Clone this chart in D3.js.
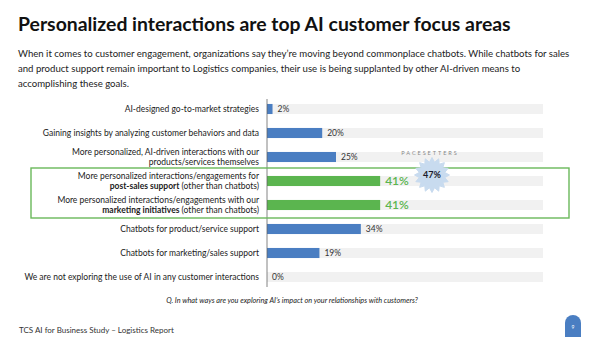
<!DOCTYPE html>
<html>
<head>
<meta charset="utf-8">
<script src="https://cdn.jsdelivr.net/npm/d3@7"></script>
<style>
  body { margin: 0; background: #fff; }
  svg { display: block; font-family: Lato, "Noto Sans", sans-serif; }
</style>
</head>
<body>
<div id="chart"></div>
<script>
// labels use **...** for bold parts, "|" for line breaks
const categories = [
  'AI-designed go-to-market strategies',
  'Gaining insights by analyzing customer behaviors and data',
  'More personalized, AI-driven interactions with our|products/services themselves',
  'More personalized interactions/engagements for|**post-sales support** (other than chatbots)',
  'More personalized interactions/engagements with our|**marketing initiatives** (other than chatbots)',
  'Chatbots for product/service support',
  'Chatbots for marketing/sales support',
  'We are not exploring the use of AI in any customer interactions',
];
const values = [2, 20, 25, 41, 41, 34, 19, 0];
const highlighted = [false, false, false, true, true, false, false, false];
const pacesetterValue = 47;

const titleText = 'Personalized interactions are top AI customer focus areas';
const subtitleLines = [
  'When it comes to customer engagement, organizations say they\u2019re moving beyond commonplace chatbots. While chatbots for sales',
  'and product support remain important to Logistics companies, their use is being supplanted by other AI-driven means to',
  'accomplishing these goals.',
];
const questionText = 'Q. In what ways are you exploring AI\u2019s impact on your relationships with customers?';
const footerText = 'TCS AI for Business Study \u2013 Logistics Report';
const pageNumber = '9';

const width = 600;
const height = 337;
const blue = '#4a7ec2';
const green = '#5bb54f';
const track = '#f1f1f1';

const svg = d3.select('#chart').append('svg')
  .attr('width', width)
  .attr('height', height);

svg.append('text')
  .attr('x', 18)
  .attr('y', 31)
  .attr('font-size', 19.4)
  .attr('font-weight', 'bold')
  .attr('fill', '#111')
  .text(titleText);

svg.append('g')
  .selectAll('text')
  .data(subtitleLines)
  .join('text')
  .attr('x', 18)
  .attr('y', (d, i) => 57 + i * 15)
  .attr('font-size', 9.6)
  .attr('fill', '#222')
  .text((d) => d);

const x = d3.scaleLinear()
  .domain([0, 100])
  .range([267, 543]);

const y = d3.scaleBand()
  .domain(d3.range(categories.length))
  .range([97, 289])
  .paddingInner(0.58)
  .paddingOuter(0.29);

const chart = svg.append('g');

// background tracks
chart.selectAll('rect.track')
  .data(values)
  .join('rect')
  .attr('class', 'track')
  .attr('x', x(0))
  .attr('width', x(100) - x(0))
  .attr('y', (d, i) => y(i))
  .attr('height', y.bandwidth())
  .attr('fill', track);

chart.selectAll('rect.bar')
  .data(values)
  .join('rect')
  .attr('class', 'bar')
  .attr('x', x(0))
  .attr('width', (d) => x(d) - x(0))
  .attr('y', (d, i) => y(i))
  .attr('height', y.bandwidth())
  .attr('fill', (d, i) => (highlighted[i] ? green : blue));

chart.append('line')
  .attr('x1', x(0))
  .attr('x2', x(0))
  .attr('y1', 99)
  .attr('y2', 287)
  .attr('stroke', '#666')
  .attr('stroke-width', 0.8);

chart.selectAll('text.value')
  .data(values)
  .join('text')
  .attr('class', 'value')
  .attr('x', (d) => x(d) + 5)
  .attr('y', (d, i) => y(i) + y.bandwidth() / 2)
  .attr('dy', '0.35em')
  .attr('font-size', (d, i) => (highlighted[i] ? 12 : 8.5))
  .attr('font-weight', (d, i) => (highlighted[i] ? 600 : 'normal'))
  .attr('fill', (d, i) => (highlighted[i] ? green : '#333'))
  .text((d) => `${d}%`);

// category labels, possibly two lines with bold parts
const labelG = chart.selectAll('text.label')
  .data(categories)
  .join('text')
  .attr('class', 'label')
  .attr('text-anchor', 'end')
  .attr('font-size', 8.5)
  .attr('fill', '#222');

labelG.each(function (d, i) {
  const lines = d.split('|');
  const lh = 10.5;
  const cy = y(i) + y.bandwidth() / 2;
  const top = cy - ((lines.length - 1) * lh) / 2;
  lines.forEach((line, li) => {
    const parts = line.split('**');
    parts.forEach((part, pi) => {
      if (!part) return;
      const ts = d3.select(this).append('tspan')
        .attr('font-weight', pi % 2 === 1 ? 'bold' : 'normal')
        .text(part);
      if (pi === 0 || (pi === 1 && !parts[0])) {
        ts.attr('x', 259).attr('y', top + li * lh).attr('dy', '0.35em');
      }
    });
  });
});

// highlight box around the personalized rows
chart.append('rect')
  .attr('x', 31)
  .attr('y', 168)
  .attr('width', 538)
  .attr('height', 50)
  .attr('fill', 'none')
  .attr('stroke', '#6ab85a')
  .attr('stroke-width', 1.4);

// pacesetters starburst
const burstPts = d3.range(32).map((i) => [i * Math.PI / 16, i % 2 ? 13 : 17.5]);
const burst = svg.append('g')
  .attr('transform', 'translate(432,175)');

burst.append('path')
  .attr('d', d3.lineRadial().curve(d3.curveLinearClosed)(burstPts))
  .attr('fill', '#c8dbef')
  .attr('stroke', '#c8dbef')
  .attr('stroke-linejoin', 'round');

burst.append('text')
  .attr('text-anchor', 'middle')
  .attr('dy', '0.35em')
  .attr('font-size', 9)
  .attr('font-weight', 'bold')
  .attr('fill', '#1b1b2b')
  .text(`${pacesetterValue}%`);

svg.append('text')
  .attr('x', 430)
  .attr('y', 155)
  .attr('text-anchor', 'middle')
  .attr('font-size', 5.6)
  .attr('letter-spacing', 1.9)
  .attr('fill', '#888')
  .text('PACESETTERS');

svg.append('text')
  .attr('x', 292)
  .attr('y', 303)
  .attr('text-anchor', 'middle')
  .attr('font-size', 7.3)
  .attr('font-style', 'italic')
  .attr('fill', '#222')
  .text(questionText);

svg.append('text')
  .attr('x', 19)
  .attr('y', 333)
  .attr('font-size', 8)
  .attr('fill', '#333')
  .text(footerText);

// page number tab
svg.append('path')
  .attr('d', 'M565,337 V323 A8,8 0 0 1 581,323 V337 Z')
  .attr('fill', '#4a7ec2');

svg.append('text')
  .attr('x', 573)
  .attr('y', 329)
  .attr('text-anchor', 'middle')
  .attr('font-size', 5)
  .attr('fill', '#fff')
  .text(pageNumber);
</script>
</body>
</html>
